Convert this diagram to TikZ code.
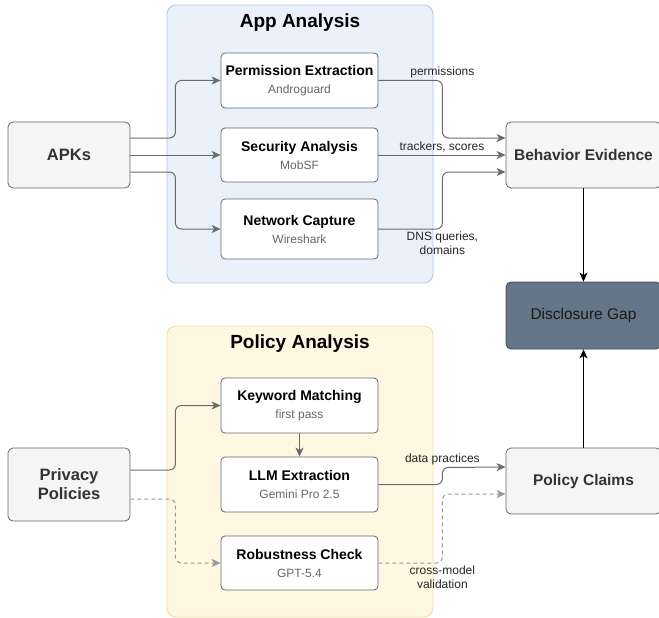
\documentclass[tikz,border=0pt]{standalone}
\usepackage{fontspec}
\setmainfont{Liberation Sans}
\usetikzlibrary{arrows.meta}

\definecolor{appfill}{HTML}{EBF1FB}
\definecolor{appline}{HTML}{AFC6E9}
\definecolor{polfill}{HTML}{FFF7E2}
\definecolor{polline}{HTML}{F3DC9C}
\definecolor{boxline}{HTML}{666666}
\definecolor{greyfill}{HTML}{F5F5F5}
\definecolor{gapfill}{HTML}{647687}
\definecolor{gapline}{HTML}{3B4B5B}
\definecolor{subtext}{HTML}{666666}
\definecolor{wire}{HTML}{6B6B6B}
\definecolor{dashwire}{HTML}{999999}

\newcommand{\tool}[1]{\\[1pt]{\mdseries\fontsize{12}{14}\selectfont\color{subtext}#1}}

\tikzset{
        group/.style={draw, line width=0.8pt, rounded corners=9pt, inner sep=0pt},
        grouptitle/.style={font=\bfseries\fontsize{19}{22}\selectfont},
        stage/.style={draw=boxline, fill=white, line width=0.8pt, rounded corners=4pt,
                minimum width=157pt, inner sep=0pt, align=center,
                font=\bfseries\fontsize{14}{17}\selectfont},
        source/.style={draw=boxline, fill=greyfill, line width=0.8pt, rounded corners=5pt,
                inner sep=0pt, align=center, text=black!80,
                font=\bfseries\fontsize{16.5}{19}\selectfont},
        result/.style={draw=boxline, fill=greyfill, line width=0.8pt, rounded corners=5pt,
                minimum width=155pt, inner sep=0pt, text=black!80,
                font=\bfseries\fontsize{15.5}{18}\selectfont},
        wire/.style={draw=wire, line width=1pt, rounded corners=6pt,
                -{Stealth[length=9pt, width=8pt, inset=2.5pt]}},
        dashwire/.style={wire, draw=dashwire, dash pattern=on 4pt off 3pt},
        link/.style={draw=black, line width=1pt,
                -{Stealth[length=9pt, width=8pt, inset=2.5pt]}},
        lbl/.style={font=\fontsize{12}{14}\selectfont, text=black!85, align=center, inner sep=2pt}
}

\begin{document}
\begin{tikzpicture}[x=1pt, y=-1pt]
        \useasboundingbox (0,0) rectangle (659,618);

        \node[group, draw=appline, fill=appfill, minimum width=266pt, minimum height=278pt] (app) at (300,144) {};
        \node[group, draw=polline, fill=polfill, minimum width=266pt, minimum height=291pt] (pol) at (300,471.5) {};
        \node[grouptitle] (apptitle) at (300,23) {App Analysis};
        \node[grouptitle] (poltitle) at (300,344) {Policy Analysis};

        \node[source, minimum width=122pt, minimum height=66pt] (apks) at (69,155) {APKs};
        \node[source, minimum width=122pt, minimum height=73pt] (pp) at (69,484.5) {Privacy\\Policies};

        \node[stage, minimum height=55pt] (perm) at (299.5,80.5) {Permission Extraction\tool{Androguard}};
        \node[stage, minimum height=54pt] (sec) at (299.5,155) {Security Analysis\tool{MobSF}};
        \node[stage, minimum height=60pt] (net) at (299.5,229) {Network Capture\tool{Wireshark}};

        \node[stage, minimum height=55pt] (kw) at (299.5,405.5) {Keyword Matching\tool{first pass}};
        \node[stage, minimum height=55pt] (llm) at (299.5,484.5) {LLM Extraction\tool{Gemini Pro 2.5}};
        \node[stage, minimum height=54pt] (rob) at (299.5,563) {Robustness Check\tool{GPT-5.4}};

        \node[result, minimum height=66pt] (be) at (583.5,155) {Behavior Evidence};
        \node[result, minimum height=67pt, fill=gapfill, draw=gapline, text=black!90,
                font=\fontsize{15.5}{18}\selectfont] (gap) at (583.5,315.5) {Disclosure Gap};
        \node[result, minimum height=66pt] (pc) at (583.5,481) {Policy Claims};

        \draw[wire] ([yshift=17pt]apks.east) -- ++(45,0) |- (perm.west);
        \draw[wire] (apks.east) -- (sec.west);
        \draw[wire] ([yshift=-17pt]apks.east) -- ++(45,0) |- (net.west);

        \draw[wire] (perm.east) -- ++(64,0) node[lbl, above] {permissions} |- ([yshift=17pt]be.west);
        \draw[wire] (sec.east) -- node[lbl, above] {trackers, scores} (be.west);
        \draw[wire] (net.east) -- ++(64,0) node[lbl, below] {DNS queries,\\domains} |- ([yshift=-17pt]be.west);

        \draw[wire] ([yshift=14.5pt]pp.east) -- ++(45,0) |- (kw.west);
        \draw[dashwire] ([yshift=-14.5pt]pp.east) -- ++(45,0) |- (rob.west);
        \draw[wire] (kw.south) -- (llm.north);

        \draw[wire] (llm.east) -- ++(64,0) -- ++(0,-17) node[lbl, above] {data practices} -- ([yshift=14pt]pc.west);
        \draw[dashwire] (rob.east) -- ++(64,0) node[lbl, below] {cross-model\\validation} |- ([yshift=-13pt]pc.west);

        \draw[link] (be.south) -- (gap.north);
        \draw[link] (pc.north) -- (gap.south);
    \end{tikzpicture}
\end{document}
